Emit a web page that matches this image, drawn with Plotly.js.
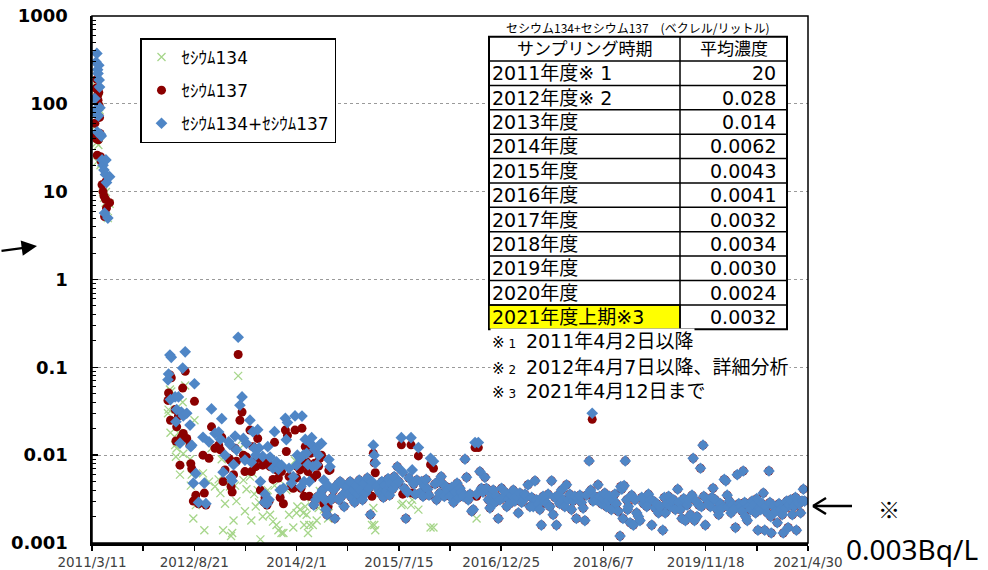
<!DOCTYPE html>
<html><head><meta charset="utf-8">
<script src="https://cdn.plot.ly/plotly-3.0.1.min.js"></script>
<style>body{margin:0;background:#fff}#chart{width:988px;height:570px}</style>
</head><body><div id="chart"></div>
<script>
// ---------------- data ----------------
const d2011 = ['2011-03-26','2011-03-29','2011-04-01','2011-04-03','2011-04-05','2011-04-07','2011-04-09','2011-04-11','2011-04-13','2011-04-15',
 '2011-04-17','2011-04-19','2011-04-21','2011-04-24','2011-04-28','2011-05-02','2011-05-07','2011-05-12','2011-05-15','2011-05-20',
 '2011-05-22','2011-05-25','2011-06-01','2011-06-10'];
const r2011 = [60,45,150,40,190,26,125,110,39,135, 95,70,46,25,22,12,10,8.9,5.2,8.2, 13,6.5,null,7.5];
const s2011 = [115,85,300,76,375,48,245,222,73,275, 187,155,90,45,43,23,20,17.6,5.7,15.7, 23,12.7,5.0,14.8];

const d2012 = ['2012-04-07','2012-04-10','2012-04-17','2012-04-20','2012-04-24','2012-05-14','2012-05-18','2012-05-22','2012-05-31','2012-06-08',
 '2012-06-15','2012-06-22','2012-06-25','2012-07-05','2012-07-13','2012-07-30','2012-08-03','2012-08-08','2012-08-16','2012-08-22',
 '2012-08-29','2012-09-12','2012-10-05','2012-10-12','2012-10-20','2012-11-05','2012-11-18','2012-12-06','2012-12-25'];
const r2012 = [0.042,0.051,0.082,0.025,0.076,0.033,0.0145,0.021,0.028,0.0077,
 0.016,0.058,0.0177,0.090,0.0155,0.013,0.008,0.007,0.003,0.041,
 0.0035,0.0028,0.010,0.0037,0.0027,0.0092,0.021,0.012,0.013];
const s2012 = [0.072,0.084,0.138,0.043,0.130,0.046,0.024,0.033,0.046,0.0137,
 0.031,0.098,0.028,0.150,0.030,0.022,0.0125,0.013,0.0048,0.065,
 0.0062,0.0029,0.016,0.0048,0.0028,0.0142,0.0336,0.0177,0.0183];

const d2013 = ['2013-01-03','2013-01-10','2013-01-17','2013-01-27','2013-02-15','2013-02-22','2013-02-27','2013-03-05','2013-03-12','2013-03-20',
 '2013-03-27','2013-04-05','2013-04-14','2013-04-25','2013-05-02','2013-05-10','2013-05-18','2013-06-05','2013-06-12','2013-06-20',
 '2013-06-27','2013-07-05','2013-07-15','2013-07-22','2013-07-29','2013-08-10','2013-08-18','2013-08-22','2013-09-01','2013-09-05',
 '2013-09-12','2013-09-17','2013-10-02','2013-10-10','2013-10-20','2013-10-30','2013-11-08','2013-11-15','2013-11-25','2013-12-05',
 '2013-12-10','2013-12-16','2013-12-24'];
const r2013 = [0.0115,0.016,0.005,0.0068,0.0092,0.0088,0.0044,0.0038,0.006,0.012,
 0.0085,0.14,0.025,0.031,0.010,0.0065,0.0095,0.0193,0.0065,0.0125,
 0.0084,0.0074,0.0155,0.0092,0.004,0.0077,0.0029,0.0033,0.0027,0.0084,
 0.003,0.0074,0.0053,0.014,0.0068,0.0055,0.0033,0.0065,0.0028,0.0193,
 0.011,0.0168,0.0057];
const s2013 = [0.0152,0.026,0.0064,0.0100,0.0142,0.0132,0.0056,0.0051,0.0078,0.0165,
 0.0115,0.22,0.037,0.046,0.0155,0.0088,0.0136,0.025,0.0083,0.0185,
 0.012,0.0100,0.0195,0.0121,0.005,0.0097,0.0029,0.0036,0.0028,0.0125,
 0.0031,0.0095,0.0071,0.0185,0.0084,0.0069,0.004,0.0077,0.0042,0.0263,
 0.015,0.0235,0.0071];

const d2014 = ['2014-01-06','2014-01-15','2014-01-24','2014-02-01','2014-02-05','2014-02-19','2014-02-24','2014-03-01','2014-03-08','2014-03-12',
 '2014-03-18','2014-03-25','2014-04-01','2014-04-08','2014-04-14','2014-04-20','2014-04-26','2014-05-01','2014-05-06','2014-05-12',
 '2014-05-16','2014-05-22','2014-05-26','2014-06-01','2014-06-05','2014-06-10','2014-06-15','2014-06-22','2014-06-28','2014-07-03',
 '2014-07-08','2014-07-14','2014-07-18','2014-07-24','2014-07-30','2014-08-06','2014-08-12','2014-08-18','2014-08-25','2014-09-02',
 '2014-09-08','2014-09-14','2014-09-22','2014-09-28','2014-10-05','2014-10-12','2014-10-20','2014-10-28','2014-11-05','2014-11-12',
 '2014-11-20','2014-11-28','2014-12-06','2014-12-14','2014-12-22','2014-12-30'];
const r2014 = [0.0044,0.0042,0.0193,0.0055,0.0074,0.0068,0.0042,0.0202,0.0078,0.0034,
 0.0125,0.0084,0.0065,0.0034,0.0105,0.0125,0.0055,0.0027,0.0081,0.0031,
 0.0060,0.0034,0.0075,0.0092,0.0036,0.0100,0.0040,0.0028,0.0031,0.0024,
 0.0021,0.0026,0.0067,0.0068,0.0031,0.0033,0.0040,0.0019,0.0044,0.0047,
 0.0031,0.0050,0.0034,0.0047,0.0026,0.0038,0.0044,0.0036,0.0050,0.0033,
 0.0040,0.0029,0.0045,0.0036,0.0052,0.0040];
const s2014 = [0.0048,0.0057,0.028,0.0077,0.0100,0.0092,0.0044,0.0279,0.0100,0.005,
 0.0151,0.0105,0.0078,0.005,0.0136,0.0158,0.0074,0.0027,0.0115,0.0031,
 0.0078,0.0034,0.0100,0.0131,0.0036,0.0136,0.0040,0.0052,0.0031,0.0024,
 0.0021,0.0045,0.0089,0.0074,0.0031,0.0033,0.0040,0.0019,0.0044,0.0047,
 0.0031,0.0050,0.0034,0.0047,0.0026,0.0038,0.0044,0.0036,0.0050,0.0033,
 0.0040,0.0029,0.0045,0.0036,0.0052,0.0040];

const d2015 = ['2015-01-08','2015-01-16','2015-01-24','2015-02-02','2015-02-10','2015-02-18','2015-02-26','2015-03-05','2015-03-10','2015-03-15',
 '2015-03-24','2015-04-02','2015-04-10','2015-04-18','2015-04-26','2015-05-04','2015-05-12','2015-05-20','2015-05-28','2015-06-05',
 '2015-06-13','2015-06-21','2015-06-29','2015-07-07','2015-07-15','2015-07-28','2015-08-04','2015-08-12','2015-08-20','2015-08-28',
 '2015-09-05','2015-09-16','2015-09-22','2015-09-30','2015-10-08','2015-10-16','2015-10-24','2015-11-01','2015-11-09','2015-11-17',
 '2015-11-25','2015-12-03','2015-12-11','2015-12-18','2015-12-26'];
const r2015 = [0.0031,0.0048,0.0037,0.0055,0.0042,0.0021,0.0034,0.0105,0.0082,0.0063,
 0.0044,0.0040,0.0037,0.0050,0.0033,0.0045,0.0039,0.0054,0.0035,0.0048,
 0.0041,0.0057,0.0046,0.0074,0.0050,0.0131,0.0036,0.0042,0.0019,0.0038,
 0.0055,0.0131,0.0037,0.0047,0.0036,0.0052,0.0098,0.0037,0.0050,0.0034,
 0.0044,0.0053,0.0041,0.0035,0.0078];
const s2015 = [0.0031,0.0048,0.0037,0.0055,0.0042,0.0021,0.0050,0.0130,0.0100,0.0081,
 0.0044,0.0040,0.0037,0.0050,0.0033,0.0045,0.0039,0.0054,0.0035,0.0048,
 0.0041,0.0057,0.0046,0.0074,0.0050,0.0158,0.0064,0.0042,0.0019,0.0038,
 0.0055,0.0158,0.0068,0.0047,0.0036,0.0052,0.0122,0.0037,0.0050,0.0034,
 0.0044,0.0053,0.0041,0.0035,0.0092];

const d2016 = ['2016-01-10','2016-01-18','2016-01-26','2016-02-03','2016-02-11','2016-02-19','2016-02-27','2016-03-06','2016-03-14','2016-03-22',
 '2016-04-05','2016-04-14','2016-04-23','2016-05-02','2016-05-11','2016-05-19','2016-05-26','2016-06-03','2016-06-12','2016-06-21',
 '2016-06-29','2016-07-08','2016-07-17','2016-07-26','2016-08-03','2016-08-12','2016-08-20','2016-08-29','2016-09-06','2016-09-14',
 '2016-09-22','2016-10-02','2016-10-10','2016-10-20','2016-10-28','2016-11-06','2016-11-14','2016-11-23','2016-12-01','2016-12-10',
 '2016-12-19','2016-12-27'];
const r2016 = [0.0071,0.0047,0.0031,0.0050,0.0037,0.0057,0.0047,0.0034,0.0044,0.0040,
 0.0034,0.0043,0.0029,0.0038,0.0048,0.0033,0.0042,0.0038,0.0034,0.0090,
 0.0056,0.0031,0.0036,0.0023,0.0024,0.0122,0.0034,0.0122,0.0065,0.0042,
 0.0038,0.0056,0.0042,0.0031,0.0025,0.0036,0.0040,0.0029,0.0034,0.0019,
 0.0031,0.0042];
const s2016 = [0.0085,0.0047,0.0031,0.0050,0.0037,0.0057,0.0047,0.0034,0.0044,0.0040,
 0.0034,0.0043,0.0029,0.0038,0.0048,0.0033,0.0042,0.0038,0.0034,0.0090,
 0.0056,0.0031,0.0036,0.0023,0.0024,0.0139,0.0036,0.0139,0.0065,0.0042,
 0.0038,0.0056,0.0042,0.0031,0.0025,0.0036,0.0040,0.0029,0.0034,0.0019,
 0.0031,0.0042];

const d2017 = ['2017-01-05','2017-01-14','2017-01-23','2017-01-31','2017-02-08','2017-02-17','2017-02-26','2017-03-06','2017-03-15','2017-03-24',
 '2017-04-01','2017-04-10','2017-04-19','2017-04-27','2017-05-05','2017-05-13','2017-05-23','2017-06-01','2017-06-09','2017-06-18',
 '2017-06-26','2017-07-05','2017-07-13','2017-07-21','2017-07-30','2017-08-08','2017-08-17','2017-08-25','2017-09-03','2017-09-12',
 '2017-09-20','2017-09-29','2017-10-07','2017-10-16','2017-10-24','2017-11-02','2017-11-11','2017-11-19','2017-11-28','2017-12-06',
 '2017-12-15','2017-12-24'];
const r2017 = [0.0033,0.0038,0.0026,0.0032,0.0028,0.0035,0.0040,0.0030,0.0034,0.0022,
 0.0037,0.0029,0.0031,0.0036,0.0034,0.0046,0.0026,0.0033,0.0026,0.0051,
 0.0031,0.0028,0.0024,0.0016,0.0034,0.0030,0.0028,0.0036,0.0026,0.0051,
 0.0021,0.0033,0.0016,0.0035,0.0028,0.0040,0.0031,0.0026,0.0046,0.0031,
 0.0036,0.0024];
const s2017 = [0.0033,0.0038,0.0026,0.0032,0.0028,0.0035,0.0040,0.0030,0.0034,0.0022,
 0.0037,0.0029,0.0031,0.0036,0.0034,0.0046,0.0026,0.0033,0.0026,0.0051,
 0.0031,0.0028,0.0024,0.0016,0.0034,0.0030,0.0028,0.0036,0.0026,0.0051,
 0.0021,0.0033,0.0016,0.0035,0.0028,0.0040,0.0031,0.0026,0.0046,0.0031,
 0.0036,0.0024];

const d2018 = ['2018-01-01','2018-01-10','2018-01-18','2018-01-27','2018-02-05','2018-02-13','2018-02-22','2018-03-03','2018-03-11','2018-03-25',
 '2018-04-02','2018-04-10','2018-04-14','2018-04-23','2018-05-01','2018-05-10','2018-05-19','2018-05-28','2018-06-05','2018-06-14',
 '2018-06-22','2018-07-01','2018-07-09','2018-07-18','2018-07-27','2018-08-05','2018-08-13','2018-08-22','2018-09-01','2018-09-05',
 '2018-09-10','2018-09-16','2018-09-22','2018-09-28','2018-10-05','2018-10-10','2018-10-14','2018-10-23','2018-10-31','2018-11-09',
 '2018-11-17','2018-11-26','2018-12-05','2018-12-13','2018-12-22','2018-12-31'];
const r2018 = [0.0030,0.0034,0.0019,0.0032,0.0035,0.0029,0.0025,0.0018,0.0035,0.0086,
 0.0040,0.0256,0.0030,0.0034,0.0031,0.0046,0.0034,0.0028,0.0032,0.0037,
 0.0026,0.0030,0.0034,0.0024,0.0031,0.0036,0.0028,0.0023,0.0012,0.0044,
 0.0041,0.0019,0.0045,0.0086,0.0031,0.0024,0.0026,0.0017,0.0035,0.0016,
 0.0031,0.0022,0.0020,0.0018,0.0033,0.0028];
const s2018 = [0.0030,0.0034,0.0019,0.0032,0.0035,0.0029,0.0025,0.0018,0.0035,0.0086,
 0.0040,0.030,0.0030,0.0034,0.0031,0.0046,0.0034,0.0028,0.0032,0.0037,
 0.0026,0.0030,0.0034,0.0024,0.0031,0.0036,0.0028,0.0023,0.0012,0.0044,
 0.0041,0.0019,0.0045,0.0086,0.0031,0.0024,0.0026,0.0017,0.0035,0.0016,
 0.0031,0.0022,0.0020,0.0018,0.0033,0.0028];

const d2019 = ['2019-01-08','2019-01-17','2019-01-26','2019-02-04','2019-02-12','2019-02-21','2019-03-01','2019-03-10','2019-03-19','2019-03-28',
 '2019-04-10','2019-04-18','2019-04-23','2019-05-01','2019-05-10','2019-05-19','2019-05-27','2019-06-05','2019-06-14','2019-06-26',
 '2019-07-04','2019-07-10','2019-07-18','2019-07-27','2019-08-05','2019-08-14','2019-08-22','2019-08-31','2019-09-08','2019-09-14',
 '2019-09-21','2019-09-29','2019-10-04','2019-10-13','2019-10-22','2019-10-27','2019-11-04','2019-11-08','2019-11-16','2019-11-25',
 '2019-12-04','2019-12-12','2019-12-20','2019-12-26'];
const r2019 = [0.0031,0.0026,0.0036,0.0031,0.0016,0.0030,0.0025,0.0028,0.0022,0.0026,
 0.0014,0.0033,0.0022,0.0028,0.0034,0.0026,0.0030,0.0031,0.0024,0.0041,
 0.0029,0.0024,0.0019,0.0032,0.0018,0.0027,0.0031,0.0021,0.0035,0.0092,
 0.0018,0.0030,0.0020,0.0027,0.0071,0.0026,0.0130,0.0034,0.0016,0.0031,
 0.0028,0.0026,0.0033,0.0042];
const s2019 = [0.0031,0.0026,0.0036,0.0031,0.0016,0.0030,0.0025,0.0028,0.0022,0.0026,
 0.0014,0.0033,0.0022,0.0028,0.0034,0.0026,0.0030,0.0031,0.0024,0.0041,
 0.0029,0.0024,0.0019,0.0032,0.0018,0.0027,0.0031,0.0021,0.0035,0.0092,
 0.0018,0.0030,0.0020,0.0027,0.0071,0.0026,0.0130,0.0034,0.0016,0.0031,
 0.0028,0.0026,0.0033,0.0042];

const d2020 = ['2020-01-07','2020-01-16','2020-01-24','2020-02-02','2020-02-10','2020-02-22','2020-03-01','2020-03-08','2020-03-12','2020-03-20',
 '2020-03-28','2020-04-05','2020-04-11','2020-04-20','2020-04-29','2020-05-07','2020-05-16','2020-05-24','2020-05-30','2020-06-06',
 '2020-06-11','2020-06-20','2020-06-28','2020-07-07','2020-07-15','2020-07-24','2020-08-02','2020-08-08','2020-08-14','2020-08-22',
 '2020-08-28','2020-09-05','2020-09-11','2020-09-18','2020-09-25','2020-10-01','2020-10-10','2020-10-15','2020-10-19','2020-10-22',
 '2020-10-30','2020-11-05','2020-11-14','2020-11-22','2020-12-01','2020-12-10','2020-12-18','2020-12-23'];
const r2020 = [0.0031,0.0024,0.0021,0.0028,0.0025,0.0053,0.0051,0.0035,0.0026,0.0030,
 0.0022,0.0027,0.0024,0.0015,0.0060,0.0028,0.0026,0.0023,0.0066,0.0029,
 0.0020,0.0018,0.0026,0.0024,0.0030,0.0027,0.0022,0.0032,0.0014,0.0025,
 0.0024,0.0028,0.0037,0.0014,0.0026,0.0022,0.0066,0.0029,0.0020,0.0013,
 0.0027,0.0026,0.0023,0.0017,0.0028,0.0024,0.0021,0.0013];
const s2020 = [0.0031,0.0024,0.0021,0.0028,0.0025,0.0053,0.0051,0.0035,0.0026,0.0030,
 0.0022,0.0027,0.0024,0.0015,0.0060,0.0028,0.0026,0.0023,0.0066,0.0029,
 0.0020,0.0018,0.0026,0.0024,0.0030,0.0027,0.0022,0.0032,0.0014,0.0025,
 0.0024,0.0028,0.0037,0.0014,0.0026,0.0022,0.0066,0.0029,0.0020,0.0013,
 0.0027,0.0026,0.0023,0.0017,0.0028,0.0024,0.0021,0.0013];

const d2021 = ['2021-01-04','2021-01-10','2021-01-17','2021-01-25','2021-01-30','2021-02-08','2021-02-17','2021-02-24','2021-03-01','2021-03-08',
 '2021-03-15','2021-03-23','2021-03-30','2021-04-06','2021-04-12'];
const r2021 = [0.0025,0.0030,0.0015,0.0027,0.0031,0.0021,0.0026,0.0033,0.0014,0.0031,
 0.0028,0.0022,0.0030,0.0041,0.0030];
const s2021 = [0.0025,0.0030,0.0015,0.0027,0.0031,0.0021,0.0026,0.0033,0.0014,0.0031,
 0.0028,0.0022,0.0030,0.0041,0.0030];

// Cs-134 (only where detected)
const d134a = ['2011-03-26','2011-03-29','2011-04-01','2011-04-03','2011-04-05','2011-04-07','2011-04-09','2011-04-11','2011-04-13','2011-04-15',
 '2011-04-17','2011-04-19','2011-04-21','2011-04-24','2011-04-28','2011-05-02','2011-05-07','2011-05-12','2011-05-20',
 '2011-05-22','2011-05-25','2011-06-01','2011-06-10'];
const v134a = [55,40,150,36,185,22,120,112,34,140, 92,85,44,20,21,11,10,8.5,7.5, 9.9,6.2,5.0,7.3];
const d134b = ['2012-04-07','2012-04-10','2012-04-17','2012-04-20','2012-04-24','2012-05-14','2012-05-18','2012-05-22','2012-05-31','2012-06-08',
 '2012-06-15','2012-06-22','2012-06-25','2012-07-05','2012-07-13','2012-07-30','2012-08-03','2012-08-08','2012-08-16','2012-08-22',
 '2012-08-29','2012-10-05','2012-10-12','2012-11-05','2012-11-18','2012-12-06','2012-12-25'];
const v134b = [0.030,0.033,0.056,0.018,0.053,0.013,0.0096,0.012,0.018,0.006,
 0.015,0.040,0.0104,0.062,0.0145,0.009,0.0045,0.006,0.0019,0.025,
 0.0027,0.0062,0.0014,0.005,0.012,0.0044,0.0053];
const d134c = ['2013-01-03','2013-01-10','2013-01-17','2013-01-27','2013-02-15','2013-02-22','2013-02-27','2013-03-05','2013-03-12','2013-03-20',
 '2013-03-27','2013-04-05','2013-04-14','2013-04-25','2013-05-02','2013-05-10','2013-05-18','2013-06-05','2013-06-12','2013-06-20',
 '2013-06-27','2013-07-05','2013-07-15','2013-07-22','2013-07-29','2013-08-10','2013-09-05','2013-09-17','2013-10-02','2013-10-10',
 '2013-10-20','2013-10-30','2013-11-15','2013-11-25','2013-12-05','2013-12-10','2013-12-16','2013-12-24'];
const v134c = [0.0037,0.009,0.0014,0.0028,0.005,0.0044,0.0012,0.0013,0.0018,0.0045,
 0.003,0.08,0.012,0.015,0.0052,0.0023,0.0041,0.0057,0.0018,0.0062,
 0.0036,0.0026,0.004,0.0029,0.0011,0.002,0.004,0.0021,0.00175,0.0045,
 0.0016,0.0014,0.0013,0.0013,0.0045,0.004,0.0042,0.0021];
const d134d = ['2014-01-15','2014-01-24','2014-02-01','2014-02-05','2014-02-19','2014-03-01','2014-03-08','2014-03-12','2014-03-18','2014-03-25',
 '2014-04-01','2014-04-08','2014-04-20','2014-04-26','2014-05-06','2014-05-16','2014-05-26','2014-06-01','2014-06-10','2014-06-22',
 '2014-07-14','2014-07-18',
 '2015-02-26','2015-03-05','2015-03-10','2015-03-15','2015-07-28','2015-08-04','2015-09-16','2015-09-22','2015-10-24','2015-12-26',
 '2016-01-10','2016-08-20'];
const v134d = [0.0015,0.0087,0.0022,0.0026,0.0024,0.0077,0.0022,0.0016,0.0026,0.0021,
 0.0013,0.0016,0.0033,0.0016,0.0034,0.0018,0.0025,0.0039,0.0036,0.0024,
 0.0019,0.0022,
 0.0016,0.0025,0.0016,0.0014,0.0027,0.0028,0.0027,0.0031,0.0024,0.0015,
 0.0015,0.0019];

const seriesNames = ['ｾｼｳﾑ134','ｾｼｳﾑ137','ｾｼｳﾑ134+ｾｼｳﾑ137'];
const yTickVals = [0.001,0.01,0.1,1,10,100,1000];
const yTickText = ['0.001','0.01','0.1','1','10','100','1000'];

const tableCaption = 'セシウム134+セシウム137　(ベクレル/リットル)';
const tableHeader = ['サンプリング時期','平均濃度'];
const tablePeriods = ['2011年度※ 1','2012年度※ 2','2013年度','2014年度','2015年度','2016年度','2017年度','2018年度','2019年度','2020年度','2021年度上期※3'];
const tableMeans = ['20','0.028','0.014','0.0062','0.0043','0.0041','0.0032','0.0034','0.0030','0.0024','0.0032'];
const footMarks = ['※','※','※'];
const footNums = ['1','2','3'];
const footTexts = ['2011年4月2日以降','2012年4月7日以降、詳細分析','2021年4月12日まで'];
const refMark = '※';
const refValue = '0.003Bq/L';

// ---------------- assembly ----------------
const dates = [].concat(d2011,d2012,d2013,d2014,d2015,d2016,d2017,d2018,d2019,d2020,d2021);
const v137 = [].concat(r2011,r2012,r2013,r2014,r2015,r2016,r2017,r2018,r2019,r2020,r2021);
const vSum = [].concat(s2011,s2012,s2013,s2014,s2015,s2016,s2017,s2018,s2019,s2020,s2021);
const dates134 = [].concat(d134a,d134b,d134c,d134d);
const v134 = [].concat(v134a,v134b,v134c,v134d);

const L=92, R=808, T=16, B=543;
const px = x => (x-L)/(R-L);
const py = y => (B-y)/(B-T);

const traces = [
 {type:'scatter',mode:'markers',name:seriesNames[0],x:dates134,y:v134,legendgroup:'a',
  marker:{symbol:'x-thin',size:8,color:'#a6d68a',line:{width:1.3,color:'#a6d68a'}}},
 {type:'scatter',mode:'markers',name:seriesNames[1],x:dates,y:v137,legendgroup:'b',
  marker:{symbol:'circle',size:9,color:'#8b0000'}},
 {type:'scatter',mode:'markers',name:seriesNames[2],x:dates,y:vSum,legendgroup:'c',
  marker:{symbol:'diamond',size:9,color:'#4f86c6'}}
];

const shapes = [];
const ann = [];
// plot frame
shapes.push({type:'rect',xref:'paper',yref:'paper',x0:0,x1:1,y0:0,y1:1,line:{color:'#000',width:1.5}});
// table
const tx0=489, tx1=680, tx2=787, ty0=36.7, rh=24.38, nRows=tablePeriods.length+1;
const ty1 = ty0 + rh*nRows;
shapes.push({type:'rect',xref:'paper',yref:'paper',x0:px(tx0),x1:px(tx2),y0:py(ty1),y1:py(ty0),fillcolor:'#fff',line:{color:'#000',width:2}});
shapes.push({type:'rect',xref:'paper',yref:'paper',x0:px(tx0),x1:px(tx1),y0:py(ty1),y1:py(ty1-rh),fillcolor:'#ffff00',line:{color:'#000',width:1.5}});
for(let i=1;i<nRows;i++){
  shapes.push({type:'line',xref:'paper',yref:'paper',x0:px(tx0),x1:px(tx2),y0:py(ty0+i*rh),y1:py(ty0+i*rh),line:{color:'#000',width:1.5}});
}
shapes.push({type:'line',xref:'paper',yref:'paper',x0:px(tx1),x1:px(tx1),y0:py(ty0),y1:py(ty1),line:{color:'#000',width:1.5}});
const tFont = {family:'DejaVu Sans, Noto Sans CJK JP',size:19,color:'#000'};
const hFont = {family:'DejaVu Sans, Noto Sans CJK JP',size:17,color:'#000'};
ann.push({xref:'paper',yref:'paper',x:px(637),y:py(27),text:tableCaption,showarrow:false,xanchor:'center',yanchor:'middle',
  font:{family:'Noto Sans CJK JP',size:12,color:'#000'}});
ann.push({xref:'paper',yref:'paper',x:px((tx0+tx1)/2),y:py(ty0+rh/2),text:tableHeader[0],showarrow:false,xanchor:'center',yanchor:'middle',font:hFont});
ann.push({xref:'paper',yref:'paper',x:px((tx1+tx2)/2),y:py(ty0+rh/2),text:tableHeader[1],showarrow:false,xanchor:'center',yanchor:'middle',font:hFont});
tablePeriods.forEach((p,i)=>{
  const yc = ty0 + rh*(i+1) + rh/2;
  ann.push({xref:'paper',yref:'paper',x:px(tx0+1),y:py(yc),text:p,showarrow:false,xanchor:'left',yanchor:'middle',font:tFont});
  ann.push({xref:'paper',yref:'paper',x:px(tx2-9),y:py(yc),text:tableMeans[i],showarrow:false,xanchor:'right',yanchor:'middle',font:tFont});
});
const footY = [341,367,391];
footTexts.forEach((t,i)=>{
  ann.push({xref:'paper',yref:'paper',x:px(490),y:py(footY[i]),showarrow:false,xanchor:'left',yanchor:'middle',bgcolor:'#fff',
    text:'<span style="font-size:15px">'+footMarks[i]+'</span><span style="font-size:12px"> '+footNums[i]+' </span> '+t,font:tFont});
});
// left arrow
ann.push({xref:'paper',yref:'paper',x:px(37),y:py(246),ax:-37,ay:5,text:'',showarrow:true,arrowhead:2,arrowsize:1.4,arrowwidth:2.2,arrowcolor:'#000'});
// right arrow + reference value
shapes.push({type:'line',xref:'paper',yref:'paper',x0:px(813),x1:px(852),y0:py(506),y1:py(506),line:{color:'#000',width:2.5}});
shapes.push({type:'line',xref:'paper',yref:'paper',x0:px(813),x1:px(826),y0:py(506),y1:py(498),line:{color:'#000',width:2.5}});
shapes.push({type:'line',xref:'paper',yref:'paper',x0:px(813),x1:px(826),y0:py(506),y1:py(514),line:{color:'#000',width:2.5}});
ann.push({xref:'paper',yref:'paper',x:px(889),y:py(508),text:refMark,showarrow:false,xanchor:'center',yanchor:'middle',font:{family:'Noto Sans CJK JP',size:22,color:'#000'}});
ann.push({xref:'paper',yref:'paper',x:px(912),y:py(549),text:refValue,showarrow:false,xanchor:'center',yanchor:'middle',font:{family:'Noto Sans',size:28,color:'#000'}});

const DAY = 86400000;
const layout = {
  width:988,height:570,margin:{l:L,r:988-R,t:T,b:570-B},
  paper_bgcolor:'#fff',plot_bgcolor:'#fff',showlegend:true,
  xaxis:{type:'date',range:['2011-03-11','2021-04-30'],tick0:'2011-03-11',dtick:529*DAY,tickformat:'%Y/%-m/%-d',
    showline:true,linecolor:'#000',linewidth:2.5,showgrid:false,zeroline:false,
    ticks:'outside',ticklen:5,tickwidth:1.5,tickcolor:'#000',ticklabelstandoff:0,
    tickfont:{family:'DejaVu Sans',size:13.5,color:'#404040'},
    minor:{ticks:'outside',ticklen:5,tickwidth:1.5,tickcolor:'#000',tick0:'2011-03-11',dtick:264.5*DAY,showgrid:false}},
  yaxis:{type:'log',range:[-3,3],tickvals:yTickVals,ticktext:yTickText,
    showline:true,linecolor:'#000',linewidth:2.5,zeroline:false,
    showgrid:true,gridcolor:'#9a9a9a',griddash:'dot',gridwidth:1,
    ticks:'inside',ticklen:6,tickwidth:1.5,tickcolor:'#000',ticklabelstandoff:18,
    tickfont:{family:'DejaVu Sans',size:18,color:'#000',weight:'bold'},
    minor:{ticks:'inside',ticklen:4,tickwidth:1,tickcolor:'#000',dtick:'D1',showgrid:false}},
  legend:{x:px(140),y:py(38),xanchor:'left',yanchor:'top',bgcolor:'#fff',bordercolor:'#000',borderwidth:1.5,
    font:{family:'DejaVu Sans, Noto Sans CJK JP',size:17,color:'#000'},traceorder:'grouped',tracegroupgap:8,itemwidth:30},
  shapes:shapes,annotations:ann
};
Plotly.newPlot('chart',traces,layout,{staticPlot:true,displayModeBar:false});
</script></body></html>
